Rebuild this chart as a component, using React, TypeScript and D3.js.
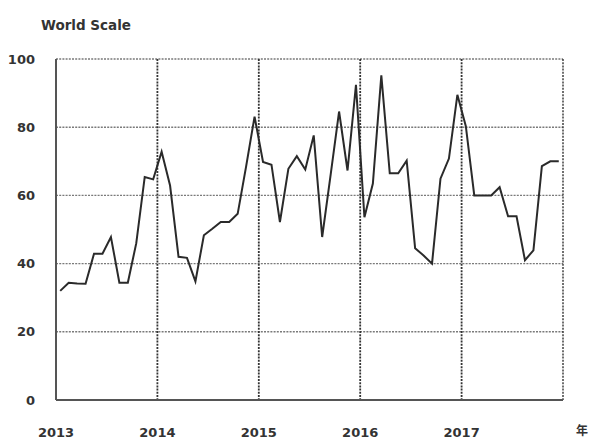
import * as d3 from "d3";
import React from "react";

// monthly values, Jan 2013 .. Dec 2017
const values = [
  32.0, 34.4, 34.2, 34.1, 42.9, 42.9, 47.8, 34.4, 34.4, 46.0, 65.4, 64.7,
  72.8, 62.9, 42.0, 41.7, 34.8, 48.3, 50.2, 52.2, 52.2, 54.6, 68.5, 83.1,
  69.8, 69.0, 52.2, 67.8, 71.5, 67.6, 77.6, 47.8, 66.0, 84.6, 67.3, 92.4,
  53.6, 63.5, 95.2, 66.5, 66.5, 70.2, 44.5, 42.4, 40.0, 64.9, 70.8, 89.5,
  80.3, 60.0, 60.0, 60.0, 62.4, 53.9, 53.9, 41.0, 43.9, 68.6, 70.0, 70.0,
];
const yearLabels = ["2013", "2014", "2015", "2016", "2017"];
const yTicks = [0, 20, 40, 60, 80, 100];

const W = 594, H = 440;
const left = 56, right = 563, top = 59, bottom = 400;
const font = "'DejaVu Sans', sans-serif";
const cjk = "'Noto Sans CJK JP', sans-serif";

const x = d3.scaleLinear().domain([0, values.length]).range([left, right]);
const y = d3.scaleLinear().domain([0, 100]).range([bottom, top]);

export default function App() {
  // points sit in the middle of each month
  const line = d3.line<number>()
    .x((_v, i) => x(i + 0.5))
    .y((v) => y(v))(values);

  const yearPos = yearLabels.map((_l, k) => x(k * 12));

  return (
    <svg width={W} height={H} style={{ position: "absolute", left: 0, top: 0 }}>
      <rect width={W} height={H} fill="#fff" />
      <text x={41} y={30} fontFamily={font} fontSize={13.5} fontWeight="bold" fill="#333">World Scale</text>

      {/* horizontal grid */}
      {yTicks.filter((t) => t > 0).map((t) => (
        <line key={t} x1={left} x2={right} y1={y(t)} y2={y(t)}
          stroke="#7a7a7a" strokeWidth={1.4} strokeDasharray="2,1.2" />
      ))}
      {/* vertical year lines + right border */}
      {yearPos.slice(1).concat([x(values.length)]).map((px, k) => (
        <line key={k} x1={px} x2={px} y1={top} y2={bottom}
          stroke="#333" strokeWidth={k === 4 ? 1.4 : 1.8} strokeDasharray="2,1.2" />
      ))}
      {/* axes */}
      <line x1={left} x2={left} y1={top} y2={bottom} stroke="#555" strokeWidth={2} />
      <line x1={left} x2={right} y1={bottom} y2={bottom} stroke="#555" strokeWidth={2} />

      {yTicks.map((t) => (
        <text key={t} x={35} y={y(t)} dy="0.36em" textAnchor="end"
          fontFamily={font} fontSize={13} fontWeight="bold" fill="#333">{t}</text>
      ))}
      {yearLabels.map((l, k) => (
        <text key={l} x={yearPos[k]} y={437} textAnchor="middle"
          fontFamily={font} fontSize={13} fontWeight="bold" fill="#333">{l}</text>
      ))}
      <text x={582} y={435} textAnchor="middle" fontFamily={cjk} fontSize={12} fontWeight="bold" fill="#333">年</text>

      <path d={line || ""} fill="none" stroke="#2a2a2a" strokeWidth={2} strokeLinejoin="miter" />
    </svg>
  );
}
